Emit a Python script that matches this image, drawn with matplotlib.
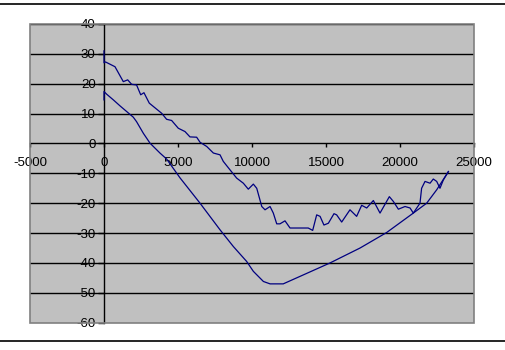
import matplotlib
matplotlib.use("Agg")
import matplotlib.pyplot as plt
from matplotlib.lines import Line2D
from matplotlib.patches import Rectangle

plt.rcParams['font.family'] = ['Liberation Sans', 'DejaVu Sans']

upper_x = [0, 0, 100, 743, 1304, 1600, 1870, 2200, 2480, 2700, 3060, 3900, 4230, 4570,
           5020, 5470, 5810, 6260, 6490, 6940, 7390, 7840, 8060, 8510, 8965, 9415, 9750,
           10090, 10320, 10660, 10880, 11220, 11440, 11670, 11890, 12230, 12570, 13800,
           14100, 14370, 14600, 14860, 15160, 15540, 15720, 16060, 16620, 17070, 17410,
           17750, 18200, 18650, 19280, 19550, 19890, 20340, 20680, 20900, 21350, 21460,
           21690, 22030, 22250, 22480, 22700, 22930, 23270]
upper_y = [31, 27, 27.3, 25.7, 20.7, 21.3, 19.8, 19.6, 16.3, 17, 13.5, 10.1, 8.1, 7.7,
           5.1, 4, 2.2, 2.1, 0.4, -1, -3.2, -3.8, -6, -8.8, -11.6, -13.3, -15.3,
           -13.6, -15, -21.1, -22.2, -21.1, -23.3, -26.9, -26.9, -25.9, -28.3, -28.3,
           -29.1, -23.9, -24.4, -27.3, -26.7, -23.5, -23.9, -26.3, -22.2, -24.4, -20.7,
           -21.6, -19.1, -23.3, -17.8, -19.4, -22, -21.1, -21.6, -23.3, -20, -15,
           -12.7, -13.3, -11.9, -12.7, -15, -12.2, -9.4]

lower_x = [0, 0, 180, 630, 1080, 1530, 1980, 2200, 2660, 3110, 3780, 4230, 5135, 6490,
           7840, 8740, 9640, 10090, 10770, 11220, 12110, 13240, 15270, 17300, 18650,
           19100, 20900, 21800, 22480, 23270]
lower_y = [14.6, 17.4, 16.5, 14.6, 12.6, 10.7, 8.8, 7.3, 3.4, 0.1, -3.2, -5.2, -11.5, -20,
           -28.9, -34.5, -39.5, -42.8, -46.2, -47, -47, -44.5, -40, -35, -31.1,
           -29.8, -23.3, -20, -15.5, -9.4]

x_ticks = [-5000, 0, 5000, 10000, 15000, 20000, 25000]
y_ticks = [-60, -50, -40, -30, -20, -10, 0, 10, 20, 30, 40]

fig = plt.figure(figsize=(5.05, 3.5), dpi=100)
ax = fig.add_axes([30/505, 1-322.7/350, 444/505, (322.7-24)/350])
ax.set_facecolor('#c0c0c0')
ax.set_xlim(-5000, 25000)
ax.set_ylim(-60, 40)

for v in y_ticks:
    if v not in (-60, 0):
        ax.axhline(v, color='black', lw=1.0, zorder=1)

ax.plot(upper_x, upper_y, color='#000080', lw=0.9, zorder=3)
ax.plot(lower_x, lower_y, color='#000080', lw=0.9, zorder=3)

for s in ['top', 'right']:
    ax.spines[s].set_visible(False)
ax.spines['left'].set_position(('data', 0))
ax.spines['bottom'].set_position(('data', 0))
ax.spines['left'].set_color('black')
ax.spines['bottom'].set_color('black')
ax.spines['left'].set_linewidth(1.0)
ax.spines['bottom'].set_linewidth(1.0)
ax.spines['left'].set_zorder(2)
ax.spines['bottom'].set_zorder(2)

ax.add_patch(Rectangle((0, 0), 1, 1, transform=ax.transAxes, fill=False,
                       edgecolor='#808080', lw=1.2, zorder=4, clip_on=False))

ax.set_xticks(x_ticks)
ax.set_xticklabels([str(v) for v in x_ticks])
ax.set_yticks(y_ticks)
ax.set_yticklabels([str(v) for v in y_ticks])
ax.tick_params(axis='x', direction='out', length=3, width=1, pad=7, labelsize=9.5)
ax.tick_params(axis='y', direction='out', length=4, width=1, pad=2, labelsize=9.5)

fig.add_artist(Line2D([0, 1], [1-4/350, 1-4/350], color='black', lw=1.2))
fig.add_artist(Line2D([0, 1], [1-341/350, 1-341/350], color='black', lw=1.2))

fig.savefig('out.png', dpi=100)
